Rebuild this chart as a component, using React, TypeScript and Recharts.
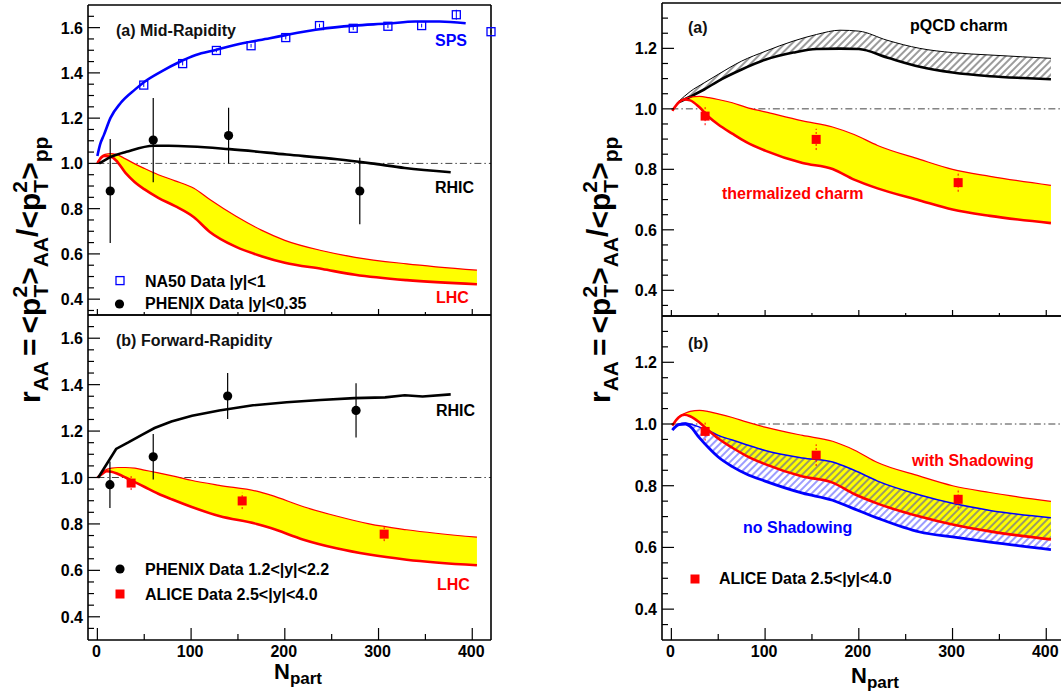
import React from "react";
import { Area, ComposedChart, ErrorBar, Line, Scatter, XAxis, YAxis } from "recharts";

const FONT = '"Liberation Sans", Arial, Helvetica, sans-serif';
const RED = "#ff0000";
const BLUE = "#0000ff";
const YELLOW = "#ffff00";

// x axis (N_part)
const X_DOMAIN: [number, number] = [-10, 420];
const X_TICKS = [0, 50, 100, 150, 200, 250, 300, 350, 400];
const X_MAJOR = [0, 100, 200, 300, 400];
const Y_MAJOR_LEFT = [0.4, 0.6, 0.8, 1.0, 1.2, 1.4, 1.6];
const Y_MAJOR_RIGHT = [0.4, 0.6, 0.8, 1.0, 1.2];

// ---- left (a) mid-rapidity ----
const NA50_N = [49.5, 91, 127, 164, 201, 237, 273, 310, 346, 383, 420];
const NA50_V = [1.346, 1.441, 1.499, 1.52, 1.556, 1.609, 1.597, 1.606, 1.609, 1.657, 1.582];
const NA50_ERR = [0.008, 0.008, 0.008, 0.008, 0.008, 0.008, 0.008, 0.008, 0.008, 0.022, 0.008];

const SPS_N = [0, 3, 7, 14, 25, 40, 50, 69, 87, 105, 126, 155, 184, 202, 238, 274, 310, 339, 365, 393];
const SPS_V = [1.033, 1.085, 1.126, 1.201, 1.268, 1.326, 1.36, 1.408, 1.447, 1.479, 1.501, 1.531, 1.553, 1.568, 1.594, 1.609, 1.618, 1.627, 1.627, 1.619];

const RHIC_MID_N = [2, 14, 31, 60, 76, 141, 202, 256, 292, 328, 377];
const RHIC_MID_V = [1.0, 1.028, 1.051, 1.078, 1.078, 1.063, 1.039, 1.018, 1.0, 0.98, 0.961];

const PHX_MID_N = [13.7, 59.6, 140, 280];
const PHX_MID_V = [0.878, 1.103, 1.123, 0.878];
const PHX_MID_ERR = [0.23, 0.186, 0.123, 0.147];

const LHC_A_N = [0, 4, 8, 14, 20, 30, 40, 50, 65, 83, 103, 120, 148, 175, 200, 240, 275, 330, 405];
const LHC_A_HI = [1.0, 1.03, 1.04, 1.043, 1.04, 1.02, 0.998, 0.978, 0.95, 0.923, 0.89, 0.84, 0.766, 0.705, 0.66, 0.614, 0.585, 0.556, 0.528];
const LHC_A_LO = [1.0, 1.025, 1.033, 1.03, 1.013, 0.958, 0.917, 0.886, 0.848, 0.811, 0.762, 0.697, 0.631, 0.59, 0.561, 0.533, 0.508, 0.484, 0.466];

// ---- left (b) forward-rapidity ----
const PHX_FWD_N = [13.4, 59.6, 139, 276];
const PHX_FWD_V = [0.969, 1.089, 1.351, 1.289];
const PHX_FWD_ERR = [0.1, 0.098, 0.099, 0.117];

const ALICE_N = [36, 154.5, 306];
const ALICE_V = [0.976, 0.899, 0.756];
const ALICE_ERR = [0.03, 0.035, 0.03];

const RHIC_FWD_N = [1, 20, 32.5, 47, 61, 79, 101, 130, 166, 202, 238, 274, 307, 328, 347, 377];
const RHIC_FWD_V = [1.0, 1.123, 1.15, 1.183, 1.213, 1.241, 1.266, 1.289, 1.311, 1.324, 1.334, 1.342, 1.345, 1.354, 1.349, 1.358];

const LHC_B_N = [0, 4, 10, 15, 22, 30, 40, 50, 65, 80, 100, 130, 170, 185, 220, 255, 290, 330, 405];
const LHC_B_HI = [1.0, 1.018, 1.035, 1.04, 1.043, 1.043, 1.04, 1.032, 1.02, 1.007, 0.988, 0.966, 0.941, 0.924, 0.874, 0.834, 0.8, 0.775, 0.743];
const LHC_B_LO = [1.0, 1.012, 1.027, 1.025, 1.015, 1.0, 0.98, 0.96, 0.93, 0.905, 0.874, 0.834, 0.8, 0.782, 0.732, 0.695, 0.668, 0.646, 0.622];

// ---- right (a) pQCD vs thermalized ----
const PQCD_N = [8, 20, 35, 50, 75, 100, 130, 155, 180, 200, 230, 265, 300, 340, 375, 405];
const PQCD_HI = [1.025, 1.057, 1.086, 1.114, 1.158, 1.19, 1.224, 1.246, 1.26, 1.257, 1.227, 1.2, 1.186, 1.178, 1.172, 1.167];
const PQCD_LO = [1.022, 1.04, 1.064, 1.092, 1.13, 1.162, 1.186, 1.198, 1.199, 1.198, 1.17, 1.139, 1.12, 1.108, 1.102, 1.098];

const TH_N = [1, 8, 14, 20, 30, 40, 50, 65, 80, 100, 140, 172, 195, 220, 265, 300, 340, 405];
const TH_HI = [0.994, 1.022, 1.033, 1.039, 1.041, 1.037, 1.031, 1.02, 1.005, 0.99, 0.96, 0.94, 0.915, 0.879, 0.833, 0.8, 0.777, 0.747];
const TH_LO = [0.994, 1.022, 1.031, 1.028, 1.005, 0.973, 0.948, 0.918, 0.89, 0.862, 0.821, 0.801, 0.766, 0.737, 0.697, 0.667, 0.646, 0.622];

// ---- right (b) shadowing ----
const SH_HI = [0.995, 1.024, 1.034, 1.041, 1.044, 1.04, 1.033, 1.021, 1.007, 0.99, 0.963, 0.944, 0.916, 0.875, 0.831, 0.8, 0.778, 0.749];
const SH_LO = [0.995, 1.022, 1.03, 1.025, 1.005, 0.978, 0.953, 0.923, 0.897, 0.87, 0.83, 0.81, 0.773, 0.742, 0.7, 0.674, 0.652, 0.626];

const NS_N = [1, 8, 15, 20, 30, 40, 50, 65, 80, 100, 140, 172, 195, 220, 265, 300, 340, 405];
const NS_HI = [0.984, 1.0, 1.003, 1.0, 0.99, 0.978, 0.963, 0.948, 0.933, 0.914, 0.89, 0.877, 0.85, 0.815, 0.77, 0.743, 0.72, 0.696];
const NS_LO = [0.98, 0.998, 1.0, 0.992, 0.955, 0.922, 0.893, 0.862, 0.838, 0.815, 0.776, 0.753, 0.725, 0.695, 0.65, 0.634, 0.617, 0.593];

const UNITY = [
  { n: 0, v: 1 },
  { n: 420, v: 1 },
];

type Pt = { n: number; v: number; err?: number };
type BandRow = { n: number; r: [number, number]; lo: number; hi: number };

const pts = (ns: number[], vs: number[], es?: number[]): Pt[] =>
  ns.map((n, i) => ({ n, v: vs[i], err: es ? es[i] : undefined }));
const band = (ns: number[], lo: number[], hi: number[]): BandRow[] =>
  ns.map((n, i) => ({ n, r: [lo[i], hi[i]], lo: lo[i], hi: hi[i] }));

// minor y ticks every 0.05 (in hundredths to avoid float junk)
function yTicks(fromH: number, toH: number) {
  const out: number[] = [];
  for (let k = fromH; k <= toH; k += 5) out.push(k / 100);
  return out;
}

const isIn = (list: number[], v: number) => list.some((l) => Math.abs(l - v) < 1e-6);

type Side = "left" | "right" | "top" | "bottom";

// ROOT-style ticks: drawn inwards, labels only on left / bottom majors.
// `scale` shortens ticks (upper pads' bottom axis is mostly hidden by the lower pad).
function tickFor(side: Side, majors: number[], showLabels: boolean, scale = 1) {
  return (props: any) => {
    const { x, y, payload } = props;
    const v: number = payload.value;
    const major = isIn(majors, v);
    const len = (major ? 12 : 6) * scale;
    let line: React.ReactNode = null;
    let label: React.ReactNode = null;
    if (side === "left") {
      line = <line x1={x} y1={y} x2={x + len} y2={y} stroke="#000" strokeWidth={1.2} />;
      if (showLabels && major)
        label = (
          <text x={x - 5} y={y + 6} textAnchor="end" fontSize={16} fontWeight={700} fontFamily={FONT} fill="#000">
            {v.toFixed(1)}
          </text>
        );
    } else if (side === "right") {
      line = <line x1={x} y1={y} x2={x - len} y2={y} stroke="#000" strokeWidth={1.2} />;
    } else if (side === "top") {
      line = <line x1={x} y1={y} x2={x} y2={y + len} stroke="#000" strokeWidth={1.2} />;
    } else {
      line = <line x1={x} y1={y} x2={x} y2={y - len} stroke="#000" strokeWidth={1.2} />;
      if (showLabels && major)
        label = (
          <text x={x - 1} y={y + 17} textAnchor="middle" fontSize={16} fontWeight={700} fontFamily={FONT} fill="#000">
            {v}
          </text>
        );
    }
    return (
      <g>
        {line}
        {label}
      </g>
    );
  };
}

const FullDot = (p: any) => <circle cx={p.cx} cy={p.cy} r={4.6} fill="#000" />;
const RedSquare = (p: any) => <rect x={p.cx - 4.5} y={p.cy - 4.5} width={9} height={9} fill={RED} />;
const OpenSquare = (p: any) => (
  <rect x={p.cx - 4} y={p.cy - 4} width={8} height={8} fill="none" stroke={BLUE} strokeWidth={1.3} />
);

interface PanelProps {
  left: number;
  top: number;
  width: number;
  height: number;
  // plot box inside this panel's own svg
  margin: { top: number; right: number; bottom: number; left: number };
  yDomain: [number, number];
  yTickList: number[];
  yMajors: number[];
  xLabels: boolean;
  bottomTickScale?: number;
  children: React.ReactNode;
}

// axes are 1px thick (a 0px axis is not drawn), so margins are shrunk by 1
function Panel({ left, top, width, height, margin, yDomain, yTickList, yMajors, xLabels, bottomTickScale = 1, children }: PanelProps) {
  const m = { top: margin.top - 1, right: margin.right - 1, bottom: margin.bottom - 1, left: margin.left - 1 };
  const axisLine = { stroke: "#000", strokeWidth: 1.6 };
  return (
    <div style={{ position: "absolute", left, top, width, height }}>
      <ComposedChart width={width} height={height} margin={m}>
        <XAxis
          type="number"
          dataKey="n"
          domain={X_DOMAIN}
          ticks={X_TICKS}
          interval={0}
          height={1}
          tickSize={0}
          tickMargin={0}
          tickLine={false}
          axisLine={axisLine}
          tick={tickFor("bottom", X_MAJOR, xLabels, bottomTickScale)}
        />
        <XAxis
          xAxisId="top"
          orientation="top"
          type="number"
          domain={X_DOMAIN}
          ticks={X_TICKS}
          interval={0}
          height={1}
          tickSize={0}
          tickMargin={0}
          tickLine={false}
          axisLine={axisLine}
          tick={tickFor("top", X_MAJOR, false)}
        />
        <YAxis
          type="number"
          dataKey="v"
          domain={yDomain}
          ticks={yTickList}
          interval={0}
          width={1}
          tickSize={0}
          tickMargin={0}
          tickLine={false}
          axisLine={axisLine}
          tick={tickFor("left", yMajors, true)}
        />
        <YAxis
          yAxisId="right"
          orientation="right"
          type="number"
          domain={yDomain}
          ticks={yTickList}
          interval={0}
          width={1}
          tickSize={0}
          tickMargin={0}
          tickLine={false}
          axisLine={axisLine}
          tick={tickFor("right", yMajors, false)}
        />
        {children}
      </ComposedChart>
    </div>
  );
}

const unityLine = (
  <Area
    data={UNITY}
    dataKey="v"
    type="linear"
    fill="none"
    stroke="#444"
    strokeWidth={1}
    strokeDasharray="7 3 1.5 3"
    isAnimationActive={false}
  />
);

function yellowBand(rows: BandRow[]) {
  return [
    <Area key="yb" data={rows} dataKey="r" type="monotone" fill={YELLOW} fillOpacity={1} stroke="none" isAnimationActive={false} />,
    <Line key="yh" data={rows} dataKey="hi" type="monotone" stroke={RED} strokeWidth={1.2} dot={false} isAnimationActive={false} />,
    <Line key="yl" data={rows} dataKey="lo" type="monotone" stroke={RED} strokeWidth={2.6} dot={false} isAnimationActive={false} />,
  ];
}

function Txt({ x, y, c = "#000", s = 16, children }: { x: number; y: number; c?: string; s?: number; children: React.ReactNode }) {
  return (
    <text x={x} y={y} fill={c} fontSize={s} fontWeight={700} fontFamily={FONT}>
      {children}
    </text>
  );
}

function YTitle({ x, y }: { x: number; y: number }) {
  const M = 30;
  const S = 21;
  const w2 = 0.556 * S;
  return (
    <text transform={`translate(${x},${y}) rotate(-90)`} fontFamily={FONT} fontWeight={700} fontSize={M} fill="#000">
      <tspan>r</tspan>
      <tspan fontSize={S} dy={8}>AA</tspan>
      <tspan dy={-8} dx={5}>=</tspan>
      <tspan dx={5}>{"<p"}</tspan>
      <tspan fontSize={S} dy={-13}>2</tspan>
      <tspan fontSize={S} dx={-w2} dy={21}>T</tspan>
      <tspan dy={-8}>{">"}</tspan>
      <tspan fontSize={S} dy={8}>AA</tspan>
      <tspan dy={-10}>/</tspan>
      <tspan dy={2}>{"<p"}</tspan>
      <tspan fontSize={S} dy={-13}>2</tspan>
      <tspan fontSize={S} dx={-w2} dy={21}>T</tspan>
      <tspan dy={-8}>{">"}</tspan>
      <tspan fontSize={S} dy={8}>pp</tspan>
    </text>
  );
}

function XTitle({ x, y }: { x: number; y: number }) {
  return (
    <text x={x} y={y} fontFamily={FONT} fontWeight={700} fontSize={22} fill="#000">
      N
      <tspan fontSize={17} dy={5}>part</tspan>
    </text>
  );
}

export default function App() {
  const na50 = pts(NA50_N, NA50_V, NA50_ERR);
  const phxMid = pts(PHX_MID_N, PHX_MID_V, PHX_MID_ERR);
  const phxFwd = pts(PHX_FWD_N, PHX_FWD_V, PHX_FWD_ERR);
  const alice = pts(ALICE_N, ALICE_V, ALICE_ERR);
  const sps = pts(SPS_N, SPS_V);
  const rhicMid = pts(RHIC_MID_N, RHIC_MID_V);
  const rhicFwd = pts(RHIC_FWD_N, RHIC_FWD_V);
  const lhcA = band(LHC_A_N, LHC_A_LO, LHC_A_HI);
  const lhcB = band(LHC_B_N, LHC_B_LO, LHC_B_HI);
  const pqcd = band(PQCD_N, PQCD_LO, PQCD_HI);
  const therm = band(TH_N, TH_LO, TH_HI);
  const shad = band(TH_N, SH_LO, SH_HI);
  const noShad = band(NS_N, NS_LO, NS_HI);

  const aliceScatter = (
    <Scatter data={alice} dataKey="v" shape={RedSquare} isAnimationActive={false}>
      <ErrorBar dataKey="err" direction="y" width={0} stroke={RED} strokeWidth={1} strokeDasharray="2 2" />
    </Scatter>
  );

  return (
    <div
      style={{
        position: "absolute",
        left: 0,
        top: 0,
        width: 1061,
        height: 691,
        overflow: "hidden",
        background: "#fff",
        fontFamily: FONT,
      }}
    >
      {/* left top: mid-rapidity */}
      <Panel
        left={0}
        top={0}
        width={530}
        height={330}
        margin={{ top: 5, right: 39, bottom: 15, left: 88 }}
        yDomain={[0.33, 1.7]}
        yTickList={yTicks(35, 165)}
        yMajors={Y_MAJOR_LEFT}
        xLabels={false}
        bottomTickScale={0.5}
      >
        {unityLine}
        {yellowBand(lhcA)}
        <Line data={sps} dataKey="v" type="monotone" stroke={BLUE} strokeWidth={2.6} dot={false} isAnimationActive={false} />
        <Line data={rhicMid} dataKey="v" type="monotone" stroke="#000" strokeWidth={2.6} dot={false} isAnimationActive={false} />
        <Scatter data={na50} dataKey="v" shape={OpenSquare} isAnimationActive={false}>
          <ErrorBar dataKey="err" direction="y" width={0} stroke={BLUE} strokeWidth={1} />
        </Scatter>
        <Scatter data={phxMid} dataKey="v" shape={FullDot} isAnimationActive={false}>
          <ErrorBar dataKey="err" direction="y" width={0} stroke="#000" strokeWidth={1.2} />
        </Scatter>
      </Panel>

      {/* left bottom: forward-rapidity */}
      <Panel
        left={0}
        top={300}
        width={530}
        height={391}
        margin={{ top: 15, right: 39, bottom: 51, left: 88 }}
        yDomain={[0.3, 1.7]}
        yTickList={yTicks(35, 165)}
        yMajors={Y_MAJOR_LEFT}
        xLabels={true}
      >
        {unityLine}
        {yellowBand(lhcB)}
        <Line data={rhicFwd} dataKey="v" type="linear" stroke="#000" strokeWidth={2.6} dot={false} isAnimationActive={false} />
        <Scatter data={phxFwd} dataKey="v" shape={FullDot} isAnimationActive={false}>
          <ErrorBar dataKey="err" direction="y" width={0} stroke="#000" strokeWidth={1.2} />
        </Scatter>
        {aliceScatter}
      </Panel>

      {/* right top: pQCD vs thermalized charm */}
      <Panel
        left={530}
        top={0}
        width={545}
        height={330}
        margin={{ top: 3, right: 10, bottom: 14, left: 132 }}
        yDomain={[0.315, 1.35]}
        yTickList={yTicks(35, 130)}
        yMajors={Y_MAJOR_RIGHT}
        xLabels={false}
        bottomTickScale={0.5}
      >
        <defs>
          <pattern id="hatchBlack" patternUnits="userSpaceOnUse" width={5} height={5} patternTransform="rotate(45)">
            <line x1={1} y1={0} x2={1} y2={5} stroke="#000" strokeWidth={1.3} />
          </pattern>
        </defs>
        {unityLine}
        <Area data={pqcd} dataKey="r" type="monotone" fill="url(#hatchBlack)" stroke="none" isAnimationActive={false} />
        <Line data={pqcd} dataKey="hi" type="monotone" stroke="#000" strokeWidth={1} dot={false} isAnimationActive={false} />
        <Line data={pqcd} dataKey="lo" type="monotone" stroke="#000" strokeWidth={2.6} dot={false} isAnimationActive={false} />
        {yellowBand(therm)}
        {aliceScatter}
      </Panel>

      {/* right bottom: with / without shadowing */}
      <Panel
        left={530}
        top={300}
        width={545}
        height={391}
        margin={{ top: 16, right: 10, bottom: 51, left: 132 }}
        yDomain={[0.3, 1.35]}
        yTickList={yTicks(35, 130)}
        yMajors={Y_MAJOR_RIGHT}
        xLabels={true}
      >
        <defs>
          <pattern id="hatchBlue" patternUnits="userSpaceOnUse" width={5} height={5} patternTransform="rotate(45)">
            <line x1={1} y1={0} x2={1} y2={5} stroke={BLUE} strokeWidth={1.3} />
          </pattern>
        </defs>
        {unityLine}
        <Area data={shad} dataKey="r" type="monotone" fill={YELLOW} fillOpacity={1} stroke="none" isAnimationActive={false} />
        <Area data={noShad} dataKey="r" type="monotone" fill="url(#hatchBlue)" stroke="none" isAnimationActive={false} />
        <Line data={noShad} dataKey="hi" type="monotone" stroke={BLUE} strokeWidth={1.5} dot={false} isAnimationActive={false} />
        <Line data={noShad} dataKey="lo" type="monotone" stroke={BLUE} strokeWidth={2.8} dot={false} isAnimationActive={false} />
        <Line data={shad} dataKey="hi" type="monotone" stroke={RED} strokeWidth={1.2} dot={false} isAnimationActive={false} />
        <Line data={shad} dataKey="lo" type="monotone" stroke={RED} strokeWidth={2.6} dot={false} isAnimationActive={false} />
        {aliceScatter}
      </Panel>

      {/* annotations, legends, axis titles */}
      <svg width={1061} height={691} style={{ position: "absolute", left: 0, top: 0, pointerEvents: "none" }}>
        <Txt x={116} y={36} c="#111">(a) Mid-Rapidity</Txt>
        <Txt x={435} y={46} c={BLUE}>SPS</Txt>
        <Txt x={435} y={193}>RHIC</Txt>
        <Txt x={436} y={303} c={RED}>LHC</Txt>
        <rect x={116} y={276.6} width={8} height={8} fill="none" stroke={BLUE} strokeWidth={1.3} />
        <Txt x={145} y={287}>NA50 Data |y|&lt;1</Txt>
        <circle cx={119.5} cy={304} r={4.6} fill="#000" />
        <Txt x={145} y={309}>PHENIX Data |y|&lt;0.35</Txt>

        <Txt x={116} y={346} c="#111">(b) Forward-Rapidity</Txt>
        <Txt x={436} y={416}>RHIC</Txt>
        <Txt x={437} y={590} c={RED}>LHC</Txt>
        <circle cx={120} cy={569} r={4.6} fill="#000" />
        <Txt x={145} y={575}>PHENIX Data 1.2&lt;|y|&lt;2.2</Txt>
        <rect x={115.5} y={589.5} width={9} height={9} fill={RED} />
        <Txt x={145} y={600}>ALICE Data 2.5&lt;|y|&lt;4.0</Txt>

        <Txt x={688} y={33} c="#111">(a)</Txt>
        <Txt x={910} y={31}>pQCD charm</Txt>
        <Txt x={722} y={199} c={RED}>thermalized charm</Txt>

        <Txt x={688} y={349} c="#111">(b)</Txt>
        <Txt x={912} y={466} c={RED}>with Shadowing</Txt>
        <Txt x={743} y={533} c={BLUE}>no Shadowing</Txt>
        <rect x={690.5} y={574.5} width={9} height={9} fill={RED} />
        <Txt x={719} y={584}>ALICE Data 2.5&lt;|y|&lt;4.0</Txt>

        <YTitle x={40} y={403} />
        <YTitle x={610} y={403} />
        <XTitle x={274} y={679} />
        <XTitle x={851} y={683} />
      </svg>
    </div>
  );
}
